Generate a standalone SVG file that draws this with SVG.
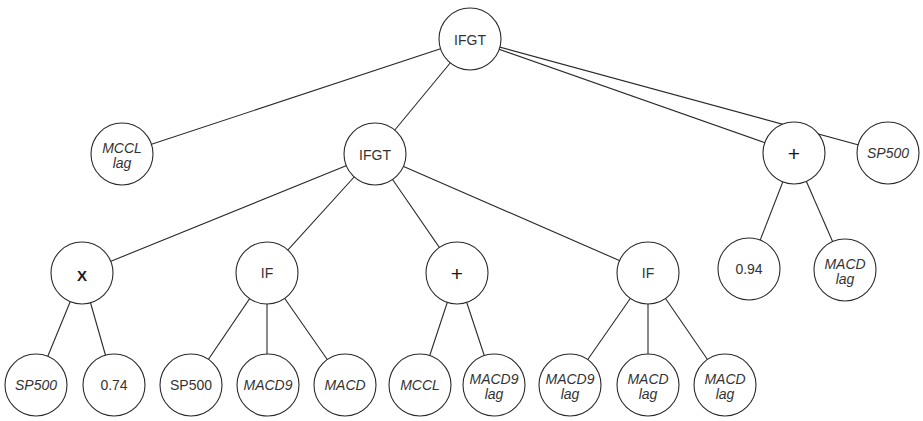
<svg xmlns="http://www.w3.org/2000/svg" width="923" height="421" viewBox="0 0 923 421">
  <style>
    .edge { stroke: #2a2a2a; stroke-width: 1.1; fill: none; }
    .node circle { fill: #ffffff; stroke: #2a2a2a; stroke-width: 1.1; }
    .node text { font-family: "Liberation Sans", Arial, sans-serif; font-size: 14px; fill: #333333; text-anchor: middle; }
    .node text.it { font-style: italic; }
    .node text.op { font-size: 21px; fill: #1a1a1a; }
    .node text.mul { font-size: 15px; font-weight: bold; fill: #1a1a1a; }
  </style>
  <rect width="923" height="421" fill="#ffffff"/>

  <!-- tree edges, centre to centre; node discs cover the ends -->
  <g id="connectors">
    <line class="edge" x1="470" y1="39" x2="122" y2="154"/>
    <line class="edge" x1="470" y1="39" x2="375" y2="154"/>
    <line class="edge" x1="470" y1="39" x2="794" y2="153"/>
    <line class="edge" x1="470" y1="39" x2="888" y2="153"/>

    <line class="edge" x1="375" y1="154" x2="82" y2="273"/>
    <line class="edge" x1="375" y1="154" x2="267" y2="273"/>
    <line class="edge" x1="375" y1="154" x2="457" y2="273"/>
    <line class="edge" x1="375" y1="154" x2="648" y2="273"/>

    <line class="edge" x1="794" y1="153" x2="749" y2="269"/>
    <line class="edge" x1="794" y1="153" x2="845" y2="270"/>

    <line class="edge" x1="82" y1="273" x2="36" y2="385"/>
    <line class="edge" x1="82" y1="273" x2="114" y2="385"/>

    <line class="edge" x1="267" y1="273" x2="191" y2="385"/>
    <line class="edge" x1="267" y1="273" x2="267" y2="385"/>
    <line class="edge" x1="267" y1="273" x2="345" y2="385"/>

    <line class="edge" x1="457" y1="273" x2="420" y2="385"/>
    <line class="edge" x1="457" y1="273" x2="494" y2="385"/>

    <line class="edge" x1="648" y1="273" x2="570" y2="385"/>
    <line class="edge" x1="648" y1="273" x2="648" y2="385"/>
    <line class="edge" x1="648" y1="273" x2="725" y2="385"/>
  </g>

  <!-- level 0 -->
  <g id="n-root" class="node"><circle cx="470" cy="39" r="31"/><text x="470" y="45">IFGT</text></g>

  <!-- level 1 -->
  <g id="n-mccl-lag" class="node"><circle cx="122" cy="154" r="31"/><text class="it" x="122" y="153">MCCL</text><text class="it" x="122" y="168">lag</text></g>
  <g id="n-ifgt" class="node"><circle cx="375" cy="154" r="31"/><text x="375" y="160">IFGT</text></g>
  <g id="n-plus-r" class="node"><circle cx="794" cy="153" r="31"/><text class="op" x="794" y="161">+</text></g>
  <g id="n-sp500-r" class="node"><circle cx="888" cy="153" r="31"/><text class="it" x="888" y="158">SP500</text></g>

  <!-- level 2 -->
  <g id="n-mul" class="node"><circle cx="82" cy="273" r="31"/><text class="mul" x="82" y="281">X</text></g>
  <g id="n-if-a" class="node"><circle cx="267" cy="273" r="31"/><text x="267" y="278">IF</text></g>
  <g id="n-plus-m" class="node"><circle cx="457" cy="273" r="31"/><text class="op" x="457" y="281">+</text></g>
  <g id="n-if-b" class="node"><circle cx="648" cy="273" r="31"/><text x="648" y="278">IF</text></g>
  <g id="n-094" class="node"><circle cx="749" cy="269" r="31"/><text x="749" y="274">0.94</text></g>
  <g id="n-macd-lag-r" class="node"><circle cx="845" cy="270" r="31"/><text class="it" x="845" y="269">MACD</text><text class="it" x="845" y="284">lag</text></g>

  <!-- level 3 -->
  <g id="n-sp500-a" class="node"><circle cx="36" cy="385" r="31"/><text class="it" x="36" y="390">SP500</text></g>
  <g id="n-074" class="node"><circle cx="114" cy="385" r="31"/><text x="114" y="390">0.74</text></g>
  <g id="n-sp500-b" class="node"><circle cx="191" cy="385" r="31"/><text x="191" y="390">SP500</text></g>
  <g id="n-macd9" class="node"><circle cx="268" cy="385" r="31"/><text class="it" x="268" y="390">MACD9</text></g>
  <g id="n-macd" class="node"><circle cx="345" cy="385" r="31"/><text class="it" x="345" y="390">MACD</text></g>
  <g id="n-mccl" class="node"><circle cx="420" cy="385" r="31"/><text class="it" x="420" y="390">MCCL</text></g>
  <g id="n-macd9-lag-a" class="node"><circle cx="494" cy="385" r="31"/><text class="it" x="494" y="384">MACD9</text><text class="it" x="494" y="399">lag</text></g>
  <g id="n-macd9-lag-b" class="node"><circle cx="570" cy="385" r="31"/><text class="it" x="570" y="384">MACD9</text><text class="it" x="570" y="399">lag</text></g>
  <g id="n-macd-lag-a" class="node"><circle cx="648" cy="385" r="31"/><text class="it" x="648" y="384">MACD</text><text class="it" x="648" y="399">lag</text></g>
  <g id="n-macd-lag-b" class="node"><circle cx="725" cy="385" r="31"/><text class="it" x="725" y="384">MACD</text><text class="it" x="725" y="399">lag</text></g>
</svg>
